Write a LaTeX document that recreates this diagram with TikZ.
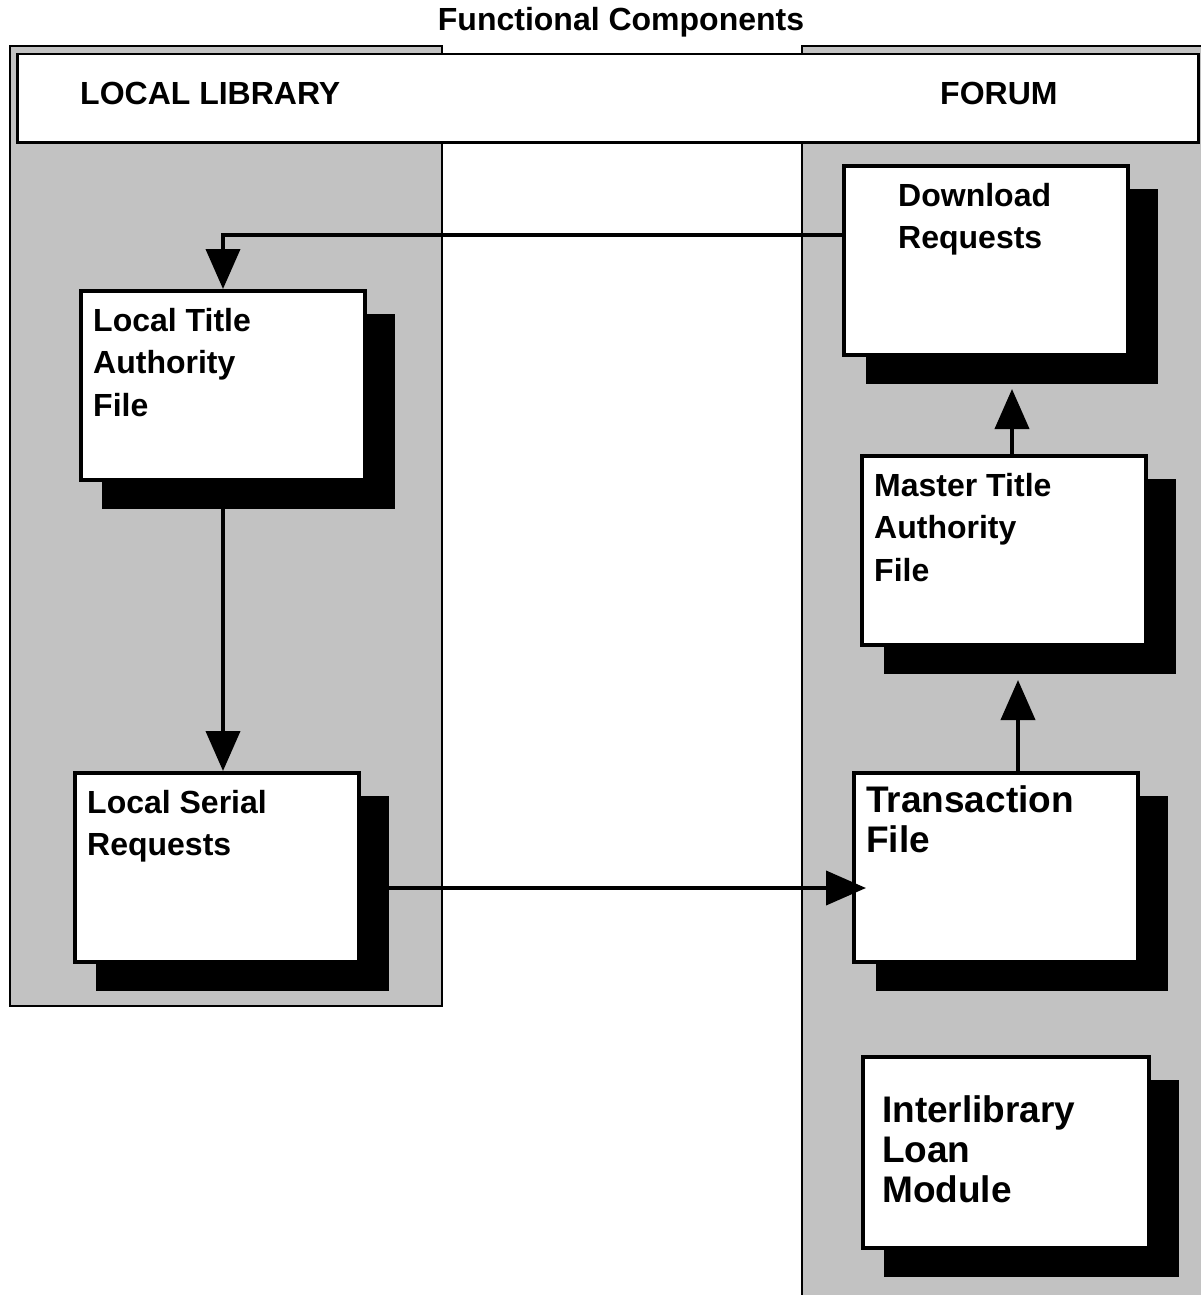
\documentclass[tikz,border=0pt]{standalone}
\usepackage{fontspec}
\setmainfont{Liberation Sans}
\usetikzlibrary{arrows.meta,shadows}
\definecolor{colgray}{RGB}{194,194,194}
\newcommand{\mylines}[1]{\begin{tabular}[t]{@{}l@{}}#1\end{tabular}}
\begin{document}
\begin{tikzpicture}[x=1pt,y=-1pt,
  column/.style={draw=black,line width=2pt,fill=colgray},
  hdr/.style={draw=black,line width=2.5pt,fill=white,rectangle,inner sep=0pt,anchor=north west},
  filebox/.style={draw=black,line width=4pt,fill=white,rectangle,inner sep=0pt,anchor=north west,
    minimum width=284pt,minimum height=189pt,
    drop shadow={shadow xshift=25pt,shadow yshift=-25pt,shadow scale=1.03,opacity=1,fill=black}},
  hfont/.style={font=\bfseries\fontsize{32}{36}\selectfont,inner sep=0pt},
  small/.style={font=\bfseries\fontsize{32}{42.5}\selectfont,anchor=base west,inner sep=0pt},
  big/.style={font=\bfseries\fontsize{37}{40}\selectfont,anchor=base west,inner sep=0pt},
  arr/.style={line width=4pt,-{Triangle[width=34pt,length=40pt]}}
]
\clip (0,0) rectangle (1201,1295);
\fill[white] (0,0) rectangle (1201,1295);
% columns
\draw[column] (10,46) rectangle (442,1006);
\draw[column] (802,46) rectangle (1215,1310);
% header
\node[hdr,minimum width=1181pt,minimum height=88pt] (hdr) at (16,53) {};
\node[hfont,anchor=base] (title) at (621,31) {Functional Components};
\node[hfont,anchor=west] (ll) at (80,93) {LOCAL LIBRARY};
\node[hfont,anchor=west] (forum) at (940,93) {FORUM};
% boxes
\node[filebox] (DL) at (842,164) {};
\node[small] (DLt) at (898,206) {\mylines{Download\\Requests}};
\node[filebox] (LTA) at (79,289) {};
\node[small] (LTAt) at (93,331) {\mylines{Local Title\\Authority\\File}};
\node[filebox] (LSR) at (73,771) {};
\node[small] (LSRt) at (87,813) {\mylines{Local Serial\\Requests}};
\node[filebox] (MTA) at (860,454) {};
\node[small] (MTAt) at (874,496) {\mylines{Master Title\\Authority\\File}};
\node[filebox] (TF) at (852,771) {};
\node[big] (TFt) at (866,812) {\mylines{Transaction\\File}};
\node[filebox,minimum width=286pt,minimum height=191pt] (ILM) at (861,1055) {};
\node[big] (ILMt) at (882,1122) {\mylines{Interlibrary\\Loan\\Module}};
% connectors
\coordinate (a1s) at (842,235);
\draw[arr] (a1s) -| (LTA.north);
\draw[arr] ([yshift=-27pt]LTA.south) -- (LTA.south |- LSR.north);
\coordinate (a3s) at (387,888);
\coordinate (a3e) at (866,888);
\draw[arr] (a3s) -- (a3e);
\coordinate (a4e) at (1018,680);
\draw[arr] (TF.north -| a4e) -- (a4e);
\coordinate (a5e) at (1012,389);
\draw[arr] (MTA.north -| a5e) -- (a5e);
\end{tikzpicture}
\end{document}
